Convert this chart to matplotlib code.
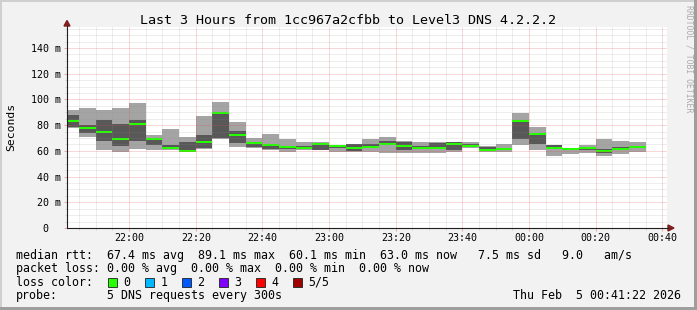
import numpy as np
import matplotlib
matplotlib.use('Agg')
import matplotlib.pyplot as plt
from matplotlib.lines import Line2D
from matplotlib.patches import Rectangle, Polygon

W, H = 697, 310
MONO = 'DejaVu Sans Mono'

# smoke data, one bar per 5 minutes starting 21:40 (ms)
p_max = [91.8, 93.6, 91.8, 93.6, 97.5, 72.3, 77.3, 71.0, 87.3, 98.2,
         82.7, 70.3, 73.1, 69.5, 66.8, 66.6, 64.6, 65.3, 69.2, 71.0,
         67.7, 67.0, 66.8, 66.9, 67.2, 63.8, 65.3, 89.7, 78.8, 64.5,
         62.5, 64.5, 69.5, 67.9, 66.9]
p_hi = [87.9, 80.5, 84.0, 80.6, 84.0, 69.8, 64.5, 67.2, 72.3, 89.1,
        75.4, 67.2, 65.1, 64.0, 64.0, 66.0, 64.0, 65.0, 65.1, 67.5,
        67.2, 64.0, 66.4, 66.6, 65.0, 63.3, 62.5, 83.5, 73.4, 64.3,
        62.2, 63.0, 61.2, 63.0, 63.5]
median = [83.5, 78.0, 74.9, 69.0, 81.1, 69.3, 62.5, 60.1, 67.1, 89.1,
          72.6, 66.1, 64.6, 63.0, 62.3, 65.6, 63.8, 62.5, 62.7, 65.6,
          64.0, 62.5, 62.3, 65.6, 64.0, 60.7, 61.8, 83.0, 73.2, 62.0,
          61.7, 62.2, 60.1, 61.8, 63.0]
p_lo = [78.3, 74.1, 67.9, 64.0, 67.9, 64.5, 61.5, 59.4, 62.0, 69.8,
        65.9, 63.3, 61.2, 61.5, 61.8, 60.7, 62.0, 59.9, 62.0, 64.5,
        60.7, 62.0, 62.0, 61.0, 63.5, 59.6, 61.5, 69.0, 65.0, 61.5,
        61.0, 60.7, 58.0, 61.0, 62.5]
p_min = [78.0, 71.0, 60.7, 58.9, 61.4, 60.5, 60.7, 59.4, 61.2, 69.5,
         63.3, 62.5, 61.0, 59.4, 60.7, 60.5, 58.9, 59.5, 58.9, 58.5,
         58.7, 58.7, 58.6, 59.0, 62.2, 59.0, 59.4, 64.6, 61.0, 56.2,
         57.5, 58.4, 56.2, 57.5, 59.0]

x_ticks = ['22:00', '22:20', '22:40', '23:00', '23:20', '23:40', '00:00', '00:20', '00:40']
y_ticks = ['0  ', '20 m', '40 m', '60 m', '80 m', '100 m', '120 m', '140 m']

title = 'Last 3 Hours from 1cc967a2cfbb to Level3 DNS 4.2.2.2'
legend_rtt = 'median rtt:  67.4 ms avg  89.1 ms max  60.1 ms min  63.0 ms now   7.5 ms sd   9.0   am/s'
legend_loss = 'packet loss: 0.00 % avg  0.00 % max  0.00 % min  0.00 % now'
loss_labels = ['0', '1', '2', '3', '4', '5/5']
loss_colors = ['#26ff00', '#00b8ff', '#0059ff', '#7e00ff', '#ff0000', '#a10000']
probe_text = '5 DNS requests every 300s'
stamp = 'Thu Feb  5 00:41:22 2026'


def fx(x):
    return x / W


def fy(y):
    return 1 - y / H


fig = plt.figure(figsize=(W / 100, H / 100), dpi=100)
fig.patch.set_facecolor('#f2f2f2')

ax = fig.add_axes([fx(67), fy(228), 600 / W, (228 - 26.7) / H])
ax.set_facecolor('white')
for s in ax.spines.values():
    s.set_visible(False)

starts = np.arange(len(median)) * 5
ax.bar(starts, np.subtract(p_max, p_min), bottom=p_min, width=5, align='edge',
       color='#a4a4a4', linewidth=0, zorder=2)
ax.bar(starts, np.subtract(p_hi, p_lo), bottom=p_lo, width=5, align='edge',
       color='#585858', linewidth=0, zorder=2.1)
band = 2 / 1.2857  # two pixels
ax.bar(starts, band, bottom=np.array(median) - band / 2, width=5, align='edge',
       color=loss_colors[0], linewidth=0, zorder=2.2)

ax.set_xlim(1 + 22 / 60, 181 + 22 / 60)
ax.set_ylim(0, 156.6)

# grid on top of the smoke, like rrdtool
grid_c = (0.56, 0.56, 0.56, 0.3)
mgrid_c = (0.87, 0.31, 0.31, 0.45)
dots = (0, (1, 1))
for x in range(5, 181, 5):
    if x % 20:
        ax.axvline(x, color=grid_c, lw=0.72, ls=dots, zorder=3)
    else:
        ax.axvline(x, color=mgrid_c, lw=0.72, ls=dots, zorder=3.1)
for y in range(5, 156, 5):
    if y % 20:
        ax.axhline(y, color=grid_c, lw=0.72, ls=dots, zorder=3)
    else:
        ax.axhline(y, color=mgrid_c, lw=0.72, ls=dots, zorder=3.1)

ax.set_xticks(range(20, 181, 20))
ax.set_xticklabels(x_ticks)
ax.set_xticks(range(5, 181, 5), minor=True)
ax.set_yticks(range(0, 141, 20))
ax.set_yticklabels(y_ticks)
ax.set_yticks(range(5, 156, 5), minor=True)
ax.tick_params(which='major', length=2.2, width=0.72, color=mgrid_c, pad=2.4,
               labelsize=7.2)
ax.tick_params(which='minor', length=1.4, width=0.72, color=grid_c)
ax.tick_params(axis='x', which='major', pad=1.4)
for lab in ax.get_xticklabels() + ax.get_yticklabels():
    lab.set_family(MONO)

# axes lines and arrows
axis_c = '#1f1f1f'
arrow_c = '#801f1f'
fig.add_artist(Line2D([fx(67), fx(668)], [fy(228), fy(228)], color=axis_c, lw=0.8))
fig.add_artist(Line2D([fx(67), fx(67)], [fy(228), fy(25.5)], color=axis_c, lw=0.8))
fig.add_artist(Polygon([(fx(668), fy(225)), (fx(674), fy(228)), (fx(668), fy(231))],
                       closed=True, color=arrow_c, transform=fig.transFigure))
fig.add_artist(Polygon([(fx(64), fy(26)), (fx(67), fy(20.5)), (fx(70), fy(26))],
                       closed=True, color=arrow_c, transform=fig.transFigure))

# frame shading
fig.add_artist(Rectangle((0, fy(2)), 1, 2 / H, color='#cfcfcf', transform=fig.transFigure, lw=0))
fig.add_artist(Rectangle((0, 0), 2 / W, 1, color='#cfcfcf', transform=fig.transFigure, lw=0))
fig.add_artist(Rectangle((0, 0), 1, 3 / H, color='#9e9e9e', transform=fig.transFigure, lw=0))
fig.add_artist(Rectangle((fx(694), 0), 3 / W, 1, color='#9e9e9e', transform=fig.transFigure, lw=0))

# texts
fig.text(fx(348), fy(23.5), title, family=MONO, fontsize=9.6, ha='center', va='baseline')
fig.text(fx(11), fy(127), 'Seconds', family=MONO, fontsize=8.2, rotation=90,
         ha='center', va='center')
fig.text(fx(688.5), fy(59), 'RRDTOOL / TOBI OETIKER', family=MONO, fontsize=5.9,
         rotation=-90, ha='center', va='center', color='#ababab')

leg = dict(family=MONO, fontsize=8.37, va='baseline', ha='left')
fig.text(fx(16), fy(258.5), legend_rtt, **leg)
fig.text(fx(16), fy(272), legend_loss, **leg)
fig.text(fx(16), fy(285.5), 'loss color:', **leg)
fig.text(fx(16), fy(299), 'probe:', **leg)
fig.text(fx(107), fy(299), probe_text, **leg)
fig.text(fx(681), fy(299), stamp, family=MONO, fontsize=8.37, va='baseline', ha='right')

for i, (lab, col) in enumerate(zip(loss_labels, loss_colors)):
    bx = 108.3 + i * 37.0
    fig.add_artist(Rectangle((fx(bx), fy(286.7)), 8.4 / W, 8.4 / H, facecolor=col,
                             edgecolor='#1f1f1f', lw=0.6, transform=fig.transFigure))
    fig.text(fx(bx + 15), fy(285.5), lab, **leg)

fig.savefig('out.png', dpi=100, facecolor=fig.get_facecolor())
